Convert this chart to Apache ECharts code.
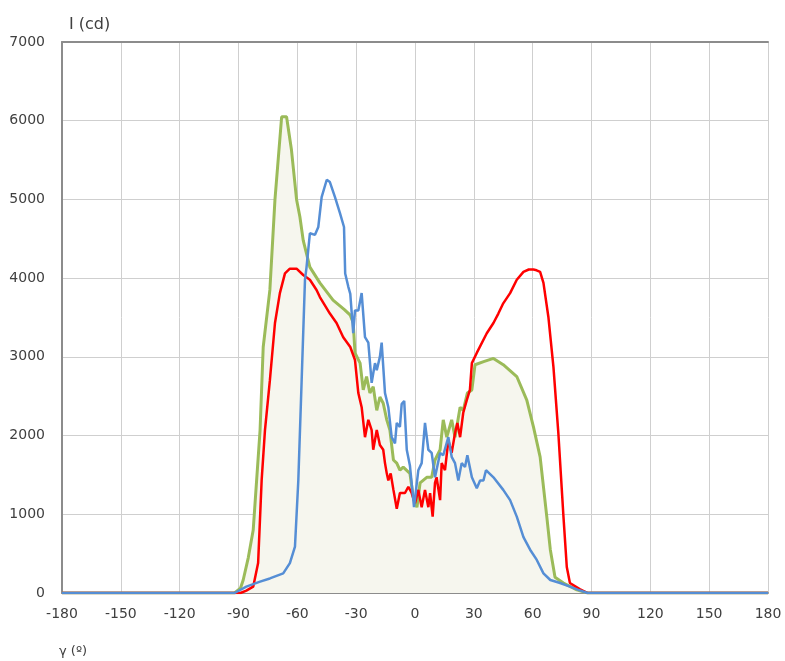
<!DOCTYPE html>
<html>
<head>
<meta charset="utf-8">
<script src="https://cdn.jsdelivr.net/npm/echarts@6/dist/echarts.min.js"></script>
<style>
  html, body { margin: 0; padding: 0; background: #fff; }
  #chart { width: 785px; height: 661px; }
</style>
</head>
<body>
<div id="chart"></div>
<script>
// angle (deg) / intensity (cd) pairs
const greenCurve = [
  [-180, 0], [-92, 0], [-89, 60], [-87.6, 165], [-85, 450], [-82.5, 800], [-79, 2070],
  [-77.4, 3125], [-74, 3850], [-71.4, 5000], [-68, 6050], [-65.5, 6050], [-63, 5630],
  [-60.4, 5000], [-58.7, 4780], [-57, 4480], [-53.6, 4140], [-48.5, 3940], [-41.8, 3720],
  [-36, 3600], [-33, 3530], [-31.5, 3430], [-30.6, 3050], [-28, 2920], [-26.4, 2580],
  [-24.7, 2750], [-23, 2540], [-21.3, 2620], [-19.5, 2320], [-17.9, 2490], [-16.2, 2410],
  [-14.4, 2200], [-12.8, 2070], [-11, 1690], [-9.3, 1650], [-7.7, 1560], [-6, 1600],
  [-2.6, 1520], [-0.9, 1220], [1, 1090], [2.6, 1400], [6, 1470], [8.5, 1470], [10.2, 1690],
  [12.8, 1820], [14.4, 2200], [16.2, 1980], [18.7, 2200], [20.4, 1980], [23, 2360],
  [24.6, 2320], [26.7, 2540], [29, 2580], [30.6, 2900], [35, 2940], [40, 2980], [45, 2900],
  [51.9, 2750], [57, 2450], [60.4, 2110], [63.8, 1730], [67.2, 970], [69, 550], [71.4, 200],
  [75.7, 127], [82.5, 40], [88, 0], [180, 0]
];

const redCurve = [
  [-180, 0], [-89, 0], [-86, 30], [-82.5, 80], [-80, 380], [-78.2, 1430], [-76.5, 2070],
  [-74, 2700], [-71.4, 3430], [-68.9, 3810], [-66.3, 4060], [-63.8, 4120], [-60.4, 4120],
  [-57, 4040], [-53.6, 3980], [-50.2, 3850], [-48.5, 3760], [-43.4, 3550], [-40, 3430],
  [-36.6, 3250], [-33, 3125], [-30.6, 2960], [-28.9, 2540], [-27.2, 2360], [-25.5, 1980],
  [-23.8, 2200], [-22.1, 2070], [-21.3, 1820], [-19.5, 2070], [-17.9, 1880], [-16.2, 1820],
  [-15.3, 1650], [-14.4, 1520], [-13.6, 1430], [-12.4, 1520], [-11, 1310], [-9.3, 1070],
  [-7.7, 1270], [-5.1, 1270], [-3.4, 1350], [-1.7, 1270], [0, 1140], [1.7, 1310], [3.4, 1090],
  [5.1, 1310], [6.8, 1090], [7.7, 1270], [9, 970], [10.2, 1400], [11, 1470], [12.8, 1180],
  [13.6, 1650], [15.3, 1560], [17, 1940], [18.7, 1780], [20.4, 2030], [21.6, 2160],
  [23, 1980], [24.6, 2290], [26.4, 2450], [28, 2580], [29, 2920], [31.5, 3050], [36.6, 3300],
  [40, 3430], [42.5, 3550], [45, 3680], [48.5, 3810], [51.9, 3980], [55.3, 4080], [58, 4110],
  [60.4, 4110], [62, 4100], [63.8, 4080], [65.5, 3940], [68, 3510], [70.6, 2870], [73.1, 2030],
  [75.7, 970], [77.4, 330], [79, 127], [84, 50], [88, 0], [180, 0]
];

const blueCurve = [
  [-180, 0], [-92, 0], [-86, 80], [-79, 145], [-74, 185], [-67.2, 250], [-63.8, 380],
  [-61.2, 590], [-59.5, 1430], [-57.8, 2700], [-56.1, 3980], [-55.3, 4140], [-53.6, 4570],
  [-51, 4550], [-49.3, 4650], [-47.6, 5030], [-45, 5250], [-43.4, 5220], [-40.8, 5030],
  [-38.3, 4830], [-36.2, 4650], [-35.6, 4060], [-34, 3890], [-33, 3800], [-31.5, 3300],
  [-30.6, 3590], [-28.9, 3590], [-27.2, 3810], [-25.5, 3250], [-23.8, 3180], [-22.1, 2670],
  [-20.4, 2920], [-19.5, 2830], [-17.9, 3000], [-17, 3180], [-15.3, 2540], [-13.6, 2360],
  [-11.9, 1980], [-10.2, 1900], [-9.3, 2160], [-7.7, 2110], [-6.8, 2400], [-5.5, 2440],
  [-4.2, 1820], [-2.6, 1620], [-0.5, 1090], [1.7, 1560], [3.4, 1650], [5.1, 2160],
  [6.8, 1820], [8.5, 1780], [10.2, 1470], [12.8, 1780], [14.4, 1750], [17, 1980],
  [18.7, 1730], [20.4, 1650], [22.1, 1430], [23.8, 1650], [25.5, 1600], [26.7, 1750],
  [29, 1470], [31.5, 1330], [33.2, 1430], [34.9, 1430], [36.2, 1560], [40, 1470],
  [45, 1310], [48.5, 1180], [51.9, 970], [55.3, 710], [58.7, 550], [62.1, 420], [65.5, 250],
  [69, 165], [74, 127], [79, 80], [83.3, 40], [88, 0], [180, 0]
];

const angleTicks = { min: -180, max: 180, step: 30 };
const intensityTicks = { min: 0, max: 7000, step: 1000 };

const font = 'DejaVu Sans, sans-serif';
const chart = echarts.init(document.getElementById('chart'));

chart.setOption({
  animation: false,
  backgroundColor: '#ffffff',
  title: [
    { text: 'I (cd)', left: 64, top: 12, textStyle: { fontFamily: font, fontSize: 16, fontWeight: 'normal', color: '#404040' } },
    { text: 'γ (º)', left: 54, top: 640, textStyle: { fontFamily: font, fontSize: 13, fontWeight: 'normal', color: '#404040' } }
  ],
  grid: { left: 62, right: 17, top: 42, bottom: 68, containLabel: false },
  xAxis: [
    {
      type: 'value',
      min: angleTicks.min, max: angleTicks.max, interval: angleTicks.step,
      axisLine: { show: true, onZero: false, lineStyle: { color: '#8c8c8c', width: 2 } },
      axisTick: { show: false },
      axisLabel: { fontFamily: font, fontSize: 14, color: '#404040', margin: 14 },
      splitLine: { show: true, lineStyle: { color: '#cfcfcf', width: 1 } }
    },
    {
      type: 'value', position: 'top',
      min: angleTicks.min, max: angleTicks.max, interval: angleTicks.step,
      axisLine: { show: true, onZero: false, lineStyle: { color: '#8c8c8c', width: 2 } },
      axisTick: { show: false }, axisLabel: { show: false }, splitLine: { show: false }
    }
  ],
  yAxis: {
    type: 'value',
    min: intensityTicks.min, max: intensityTicks.max, interval: intensityTicks.step,
    axisLine: { show: true, onZero: false, lineStyle: { color: '#8c8c8c', width: 2 } },
    axisTick: { show: false },
    axisLabel: { fontFamily: font, fontSize: 14, color: '#404040', margin: 17, formatter: v => String(v) },
    splitLine: { show: true, lineStyle: { color: '#cfcfcf', width: 1 } }
  },
  series: [
    {
      name: 'green', type: 'line', data: greenCurve, showSymbol: false, smooth: false,
      lineStyle: { color: '#9bbb59', width: 3 },
      areaStyle: { color: '#f6f6ee', opacity: 1 },
      z: 2
    },
    {
      name: 'red', type: 'line', data: redCurve, showSymbol: false, smooth: false,
      lineStyle: { color: '#ff0000', width: 2.5 },
      z: 3
    },
    {
      name: 'blue', type: 'line', data: blueCurve, showSymbol: false, smooth: false,
      lineStyle: { color: '#558ed5', width: 2.5 },
      z: 4
    }
  ]
});
</script>
</body>
</html>
